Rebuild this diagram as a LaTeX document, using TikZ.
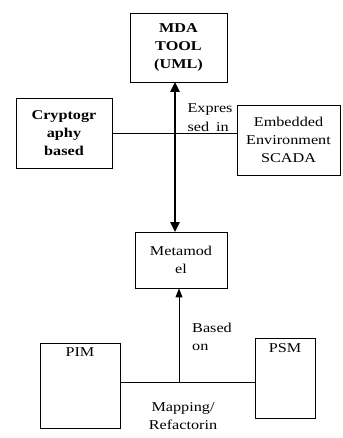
\documentclass[tikz,border=0pt]{standalone}
\usepackage{fontspec}
\setmainfont[FakeStretch=1.2]{Liberation Serif}
\usetikzlibrary{arrows.meta}
\begin{document}
\begin{tikzpicture}[x=1pt,y=-1pt,
  box/.style={draw, line width=0.9pt, inner sep=0pt, align=center,
    font=\fontsize{13.5}{18}\selectfont},
  tag/.style={inner sep=0pt, font=\fontsize{13.5}{18.5}\selectfont},
  link/.style={line width=0.9pt},
  bigarrow/.style={line width=2.6pt, {Triangle[width=9pt,length=10pt]}-{Triangle[width=9pt,length=10pt]}, shorten <=-0.5pt, shorten >=-0.5pt},
  uparrow/.style={line width=1pt, -{Triangle[width=7pt,length=9pt]}}]
\useasboundingbox (0,0) rectangle (342,438);

% boxes
\node[box, minimum width=97pt, minimum height=69pt] (mda) at (178.5,47.5)
  {\bfseries MDA\\\bfseries TOOL\\\bfseries (UML)};
\node[box, minimum width=96pt, minimum height=70pt] (crypt) at (64,133)
  {\bfseries Cryptogr\\\bfseries aphy\\\bfseries based};
\node[box, minimum width=103pt, minimum height=70pt] (emb) at (288.5,140)
  {Embedded\\Environment\\SCADA};
\node[box, minimum width=92pt, minimum height=56pt] (meta) at (181,260)
  {Metamod\\el};
\node[box, minimum width=80pt, minimum height=85pt,
  label={[tag, anchor=north, yshift=-5pt]north:PIM}] (pim) at (80,385.5) {};
\node[box, minimum width=60pt, minimum height=80pt,
  label={[tag, anchor=north, yshift=-6pt]north:PSM}] (psm) at (285,378) {};

% connectors
\draw[link] (crypt.east) -- (crypt.east -| emb.west);
\draw[bigarrow] ([xshift=-3.5pt]mda.south) -- ([xshift=-3.5pt]mda.south |- meta.north);
\coordinate (junc) at (179,382);
\draw[link] (pim.east |- junc) -- (psm.west |- junc);
\draw[uparrow] (junc) -- (junc |- meta.south);

% labels
\node[tag, align=left] (expr) at (210,117.5) {Expres\\sed\hspace{7pt}in};
\node[tag, align=left, anchor=west] (based) at (192,337) {Based\\on};
\node[tag, align=center] (mapping) at (183,416) {Mapping/\\Refactorin};
\end{tikzpicture}
\end{document}
